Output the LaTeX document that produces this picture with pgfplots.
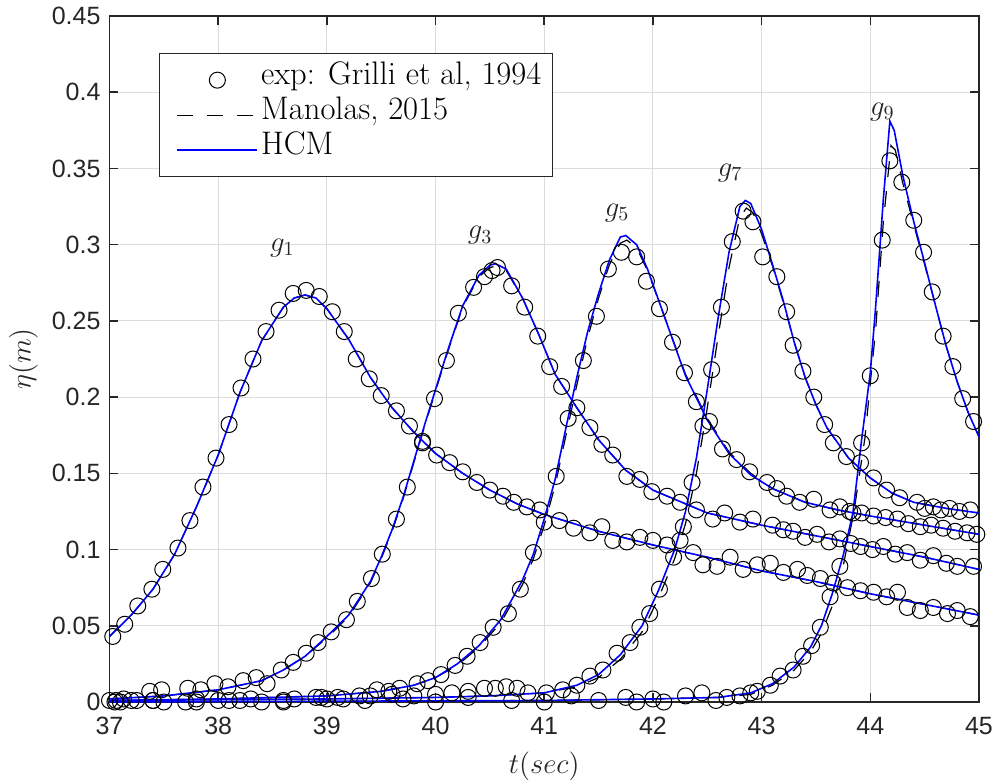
\documentclass[border=0pt]{standalone}
\usepackage{pgfplots}
\pgfplotsset{compat=1.18}
\usepackage{fontspec}
\newfontfamily\arial{Liberation Sans}
\definecolor{hcmblue}{RGB}{0,0,255}
\definecolor{axgray}{RGB}{38,38,38}

\begin{document}
\begin{tikzpicture}
\begin{axis}[
  scale only axis, width=434.75pt, height=343pt,
  xmin=37, xmax=45, ymin=0, ymax=0.45,
  xtick={37,38,39,40,41,42,43,44,45},
  xticklabels={37,38,39,40,41,42,43,44,45},
  ytick={0,0.05,0.1,0.15,0.2,0.25,0.3,0.35,0.4,0.45},
  yticklabels={0,0.05,0.1,0.15,0.2,0.25,0.3,0.35,0.4,0.45},
  grid=major, major grid style={black!14, line width=0.5pt},
  tick align=inside, tick pos=both, major tick length=4.5pt,
  axis line style={axgray, line width=0.8pt},
  tick style={axgray, line width=0.8pt},
  ticklabel style={font=\arial\fontsize{12.5}{14}\selectfont, text=axgray},
  xticklabel style={yshift=-4pt},
  yticklabel style={xshift=-1pt},
  xlabel={$t(sec)$}, ylabel={$\eta(m)$},
  label style={font=\fontsize{14}{16}\selectfont, text=axgray},
  xlabel style={at={(axis description cs:0.5,-0.0933)}, anchor=center},
  ylabel style={at={(axis description cs:-0.0989,0.5)}, anchor=center},
  legend cell align=left,
  legend style={at={(0.0569,0.946)}, anchor=north west, draw=axgray, line width=0.6pt,
    font=\fontsize{16.3}{17.5}\selectfont, inner xsep=4pt, inner ysep=4.5pt,
    nodes={inner xsep=1.5pt, inner ysep=0pt, text height=11pt, text depth=6.5pt}},
  legend image code/.code={\path (-4.5pt,0pt); \draw[mark repeat=2,mark phase=2,#1] plot coordinates {(0pt,0pt) (20pt,0pt) (40pt,0pt)};},
]
% ---------------- experimental data ----------------
\addplot[only marks, mark=o, mark size=4pt, black, line width=0.5pt] coordinates {
(37.03,0.043)(37.14,0.051)(37.26,0.063)(37.39,0.074)(37.49,0.087)(37.63,0.101)(37.74,0.119)(37.86,0.141)
(37.98,0.160)(38.10,0.182)(38.21,0.206)(38.32,0.225)(38.44,0.243)(38.56,0.257)(38.69,0.268)(38.81,0.270)
(38.93,0.266)(39.05,0.256)(39.16,0.243)(39.27,0.225)(39.39,0.212)(39.50,0.201)(39.64,0.191)(39.76,0.181)
(39.88,0.171)(40.01,0.162)(40.13,0.157)(40.25,0.151)(40.38,0.144)(40.50,0.139)(40.62,0.135)(40.72,0.131)
(40.84,0.128)(40.96,0.126)(41.14,0.119)(41.27,0.114)(41.42,0.111)(41.53,0.115)(41.63,0.106)(41.76,0.105)
(41.88,0.108)(42.00,0.106)(42.13,0.103)(42.25,0.106)(42.37,0.098)(42.46,0.090)(42.59,0.089)(42.71,0.095)
(42.83,0.087)(42.96,0.090)(43.08,0.091)(43.20,0.085)(43.33,0.087)(43.42,0.083)(43.54,0.081)(43.66,0.078)
(43.79,0.075)(43.91,0.073)(44.03,0.072)(44.15,0.069)(44.25,0.072)(44.34,0.062)(44.46,0.060)(44.58,0.062)
(44.71,0.058)(44.80,0.060)(44.92,0.056)
};
\addlegendentry{exp: Grilli et al, 1994}
\addplot[only marks, mark=o, mark size=4pt, black, line width=0.5pt, forget plot] coordinates {
(37.00,0.001)(37.06,0.001)(37.13,0.002)(37.25,0.001)(37.37,0.007)(37.48,0.008)(37.72,0.009)(37.84,0.008)
(37.97,0.012)(38.09,0.010)(38.23,0.014)(38.35,0.016)(38.45,0.012)(38.58,0.021)(38.69,0.026)(38.81,0.032)
(38.92,0.039)(39.04,0.046)(39.18,0.054)(39.28,0.066)(39.41,0.081)(39.51,0.097)(39.64,0.120)(39.74,0.141)
(39.88,0.170)(39.99,0.199)(40.10,0.224)(40.21,0.255)(40.35,0.272)(40.45,0.279)(40.52,0.283)(40.57,0.285)
(40.70,0.273)(40.82,0.259)(40.94,0.240)(41.05,0.220)(41.16,0.207)(41.30,0.193)(41.42,0.180)(41.53,0.169)
(41.63,0.162)(41.76,0.148)(41.88,0.146)(41.99,0.138)(42.13,0.135)(42.25,0.131)(42.40,0.126)(42.55,0.120)
(42.66,0.124)(42.80,0.118)(42.92,0.120)(43.10,0.116)(43.20,0.113)(43.29,0.112)(43.40,0.108)(43.51,0.110)
(43.62,0.105)(43.72,0.107)(43.82,0.104)(43.91,0.102)(44.02,0.100)(44.12,0.102)(44.23,0.097)(44.34,0.098)
(44.46,0.093)(44.58,0.096)(44.70,0.091)(44.80,0.089)(44.95,0.089)
};
\addplot[only marks, mark=o, mark size=4pt, black, line width=0.5pt, forget plot] coordinates {
(37.20,0.001)(37.50,0.000)(37.80,0.002)(38.10,0.001)(38.40,0.000)(38.70,0.002)(38.95,0.003)(39.10,0.003)
(39.30,0.004)(39.46,0.008)(39.57,0.007)(39.67,0.009)(39.83,0.012)(39.93,0.014)(40.05,0.018)(40.18,0.024)
(40.29,0.030)(40.41,0.039)(40.53,0.049)(40.67,0.058)(40.78,0.074)(40.90,0.098)(41.00,0.118)(41.11,0.148)
(41.22,0.186)(41.36,0.224)(41.48,0.253)(41.59,0.284)(41.71,0.295)(41.85,0.292)(41.94,0.276)(42.06,0.258)
(42.18,0.236)(42.29,0.216)(42.40,0.197)(42.52,0.184)(42.64,0.166)(42.77,0.159)(42.89,0.151)(43.05,0.144)
(43.14,0.140)(43.23,0.135)(43.35,0.131)(43.48,0.133)(43.63,0.126)(43.72,0.128)(43.81,0.125)(43.92,0.124)
(44.03,0.122)(44.14,0.121)(44.25,0.120)(44.35,0.117)(44.46,0.115)(44.56,0.116)(44.67,0.114)(44.78,0.112)
(44.89,0.111)(44.98,0.110)
};
\addplot[only marks, mark=o, mark size=4pt, black, line width=0.5pt, forget plot] coordinates {
(37.10,0.000)(37.40,0.001)(37.70,0.000)(38.00,0.001)(38.30,0.002)(38.60,0.001)(38.90,0.003)(39.15,0.002)
(39.40,0.004)(39.60,0.005)(39.80,0.004)(40.00,0.005)(40.15,0.006)(40.30,0.007)(40.45,0.009)(40.55,0.009)
(40.65,0.010)(40.75,0.009)(40.85,0.006)(41.02,0.006)(41.17,0.008)(41.30,0.011)(41.42,0.017)(41.54,0.021)
(41.67,0.032)(41.79,0.039)(41.88,0.049)(41.97,0.058)(42.06,0.074)(42.19,0.095)(42.28,0.115)(42.36,0.144)
(42.46,0.181)(42.54,0.218)(42.63,0.259)(42.73,0.302)(42.83,0.322)(42.92,0.315)(43.01,0.292)(43.14,0.279)
(43.23,0.256)(43.29,0.234)(43.38,0.217)(43.48,0.200)(43.58,0.182)(43.66,0.170)(43.78,0.161)(43.91,0.157)
(44.03,0.147)(44.15,0.139)(44.27,0.134)(44.43,0.131)(44.50,0.127)(44.58,0.128)(44.65,0.126)(44.73,0.127)
(44.82,0.125)(44.92,0.126)
};
\addplot[only marks, mark=o, mark size=4pt, black, line width=0.5pt, forget plot] coordinates {
(37.05,0.000)(37.40,0.001)(37.80,0.000)(38.20,0.001)(38.60,0.000)(39.00,0.002)(39.35,0.001)(39.70,0.002)
(40.00,0.000)(40.30,0.003)(40.70,0.001)(41.00,0.000)(41.25,0.004)(41.50,0.001)(41.75,0.003)(41.85,0.000)
(42.00,0.002)(42.10,0.000)(42.30,0.004)(42.45,0.006)(42.58,0.001)(42.68,0.003)(42.80,0.004)(42.90,0.006)
(42.96,0.007)(43.08,0.011)(43.17,0.017)(43.29,0.021)(43.38,0.030)(43.46,0.037)(43.54,0.049)(43.63,0.069)
(43.72,0.089)(43.84,0.124)(43.92,0.170)(44.00,0.214)(44.11,0.303)(44.18,0.355)(44.29,0.341)(44.40,0.316)
(44.49,0.295)(44.57,0.269)(44.67,0.240)(44.76,0.220)(44.85,0.199)(44.95,0.184)
};
% ---------------- Manolas, 2015 (dashed) ----------------
\addplot[black, line width=0.6pt, dash pattern=on 8pt off 7pt] coordinates {
(37.0,0.043)(37.2,0.057)(37.4,0.074)(37.6,0.097)(37.8,0.128)(38.0,0.162)(38.2,0.203)(38.4,0.237)
(38.6,0.259)(38.7,0.265)(38.8,0.267)(38.9,0.265)(39.0,0.258)(39.2,0.238)(39.4,0.213)(39.6,0.193)
(39.8,0.177)(40.0,0.163)(40.25,0.150)(40.5,0.139)(40.75,0.130)(41.0,0.123)(41.5,0.112)(42.0,0.103)
(42.5,0.095)(43.0,0.086)(43.5,0.079)(44.0,0.071)(44.5,0.064)(45.0,0.057)
};
\addlegendentry{Manolas, 2015}
\addplot[black, line width=0.6pt, dash pattern=on 8pt off 7pt, forget plot] coordinates {
(37.0,0.002)(37.5,0.004)(38.0,0.008)(38.4,0.014)(38.6,0.021)(38.8,0.030)(39.0,0.042)(39.2,0.056)
(39.4,0.078)(39.5,0.094)(39.6,0.112)(39.7,0.133)(39.9,0.181)(40.1,0.227)(40.25,0.259)(40.4,0.279)
(40.5,0.285)(40.56,0.286)(40.65,0.283)(40.8,0.265)(40.95,0.241)(41.1,0.215)(41.3,0.193)(41.5,0.172)
(41.75,0.152)(42.0,0.139)(42.5,0.124)(43.0,0.116)(43.5,0.109)(44.0,0.102)(44.5,0.095)(45.0,0.087)
};
\addplot[black, line width=0.6pt, dash pattern=on 8pt off 7pt, forget plot] coordinates {
(37.0,0.001)(38.0,0.002)(39.0,0.004)(39.5,0.007)(39.8,0.011)(40.0,0.016)(40.2,0.024)(40.4,0.036)
(40.6,0.052)(40.8,0.077)(40.9,0.094)(41.0,0.116)(41.1,0.142)(41.2,0.175)(41.3,0.208)(41.4,0.239)
(41.5,0.265)(41.6,0.287)(41.7,0.301)(41.76,0.303)(41.85,0.298)(41.95,0.283)(42.1,0.254)(42.3,0.215)
(42.5,0.186)(42.7,0.164)(42.9,0.150)(43.1,0.140)(43.4,0.131)(43.7,0.126)(44.0,0.122)(44.5,0.116)(45.0,0.110)
};
\addplot[black, line width=0.6pt, dash pattern=on 8pt off 7pt, forget plot] coordinates {
(37.0,0.001)(39.0,0.002)(40.0,0.003)(40.5,0.004)(41.0,0.006)(41.3,0.010)(41.5,0.016)(41.7,0.028)
(41.9,0.046)(42.05,0.068)(42.2,0.094)(42.3,0.117)(42.4,0.150)(42.5,0.193)(42.6,0.240)(42.7,0.285)
(42.8,0.318)(42.86,0.324)(42.92,0.321)(43.0,0.307)(43.1,0.286)(43.2,0.262)(43.3,0.236)(43.4,0.213)
(43.5,0.195)(43.6,0.180)(43.8,0.160)(44.0,0.147)(44.2,0.137)(44.4,0.131)(44.7,0.127)(45.0,0.124)
};
\addplot[black, line width=0.6pt, dash pattern=on 8pt off 7pt, forget plot] coordinates {
(37.0,0.000)(41.0,0.001)(42.0,0.002)(42.6,0.003)(42.9,0.005)(43.1,0.011)(43.3,0.021)(43.45,0.033)
(43.55,0.045)(43.65,0.063)(43.75,0.089)(43.85,0.125)(43.95,0.173)(44.05,0.245)(44.12,0.315)(44.19,0.365)
(44.23,0.362)(44.3,0.340)(44.4,0.313)(44.5,0.287)(44.6,0.260)(44.7,0.233)(44.8,0.210)(44.9,0.190)(45.0,0.174)
};
% ---------------- HCM (blue) ----------------
\addplot[hcmblue, line width=0.8pt] coordinates {
(37.0,0.043)(37.2,0.057)(37.4,0.074)(37.6,0.097)(37.8,0.128)(38.0,0.162)(38.2,0.203)(38.4,0.237)
(38.6,0.259)(38.7,0.265)(38.8,0.267)(38.9,0.265)(39.0,0.258)(39.2,0.238)(39.4,0.213)(39.6,0.193)
(39.8,0.177)(40.0,0.163)(40.25,0.150)(40.5,0.139)(40.75,0.130)(41.0,0.123)(41.5,0.112)(42.0,0.103)
(42.5,0.095)(43.0,0.086)(43.5,0.079)(44.0,0.071)(44.5,0.064)(45.0,0.057)
};
\addlegendentry{HCM}
\addplot[hcmblue, line width=0.8pt, forget plot] coordinates {
(37.0,0.002)(37.5,0.004)(38.0,0.008)(38.4,0.014)(38.6,0.021)(38.8,0.030)(39.0,0.043)(39.2,0.057)
(39.4,0.079)(39.5,0.095)(39.6,0.113)(39.7,0.134)(39.9,0.182)(40.1,0.228)(40.25,0.260)(40.4,0.280)
(40.5,0.2865)(40.55,0.2875)(40.65,0.284)(40.8,0.265)(40.95,0.241)(41.1,0.215)(41.3,0.193)(41.5,0.172)
(41.75,0.152)(42.0,0.139)(42.5,0.124)(43.0,0.116)(43.5,0.109)(44.0,0.102)(44.5,0.095)(45.0,0.087)
};
\addplot[hcmblue, line width=0.8pt, forget plot] coordinates {
(37.0,0.001)(38.0,0.002)(39.0,0.004)(39.5,0.007)(39.8,0.011)(40.0,0.016)(40.2,0.025)(40.4,0.037)
(40.6,0.054)(40.8,0.080)(40.9,0.097)(41.0,0.120)(41.1,0.146)(41.2,0.180)(41.3,0.213)(41.4,0.243)
(41.5,0.268)(41.6,0.290)(41.7,0.305)(41.75,0.306)(41.85,0.300)(41.95,0.284)(42.1,0.254)(42.3,0.214)
(42.5,0.185)(42.7,0.163)(42.9,0.149)(43.1,0.140)(43.4,0.131)(43.7,0.126)(44.0,0.122)(44.5,0.116)(45.0,0.110)
};
\addplot[hcmblue, line width=0.8pt, forget plot] coordinates {
(37.0,0.001)(39.0,0.002)(40.0,0.003)(40.5,0.004)(41.0,0.006)(41.3,0.011)(41.5,0.018)(41.7,0.031)
(41.9,0.050)(42.05,0.073)(42.2,0.100)(42.3,0.125)(42.4,0.160)(42.5,0.205)(42.6,0.252)(42.7,0.295)
(42.8,0.325)(42.85,0.329)(42.9,0.327)(43.0,0.310)(43.1,0.287)(43.2,0.263)(43.3,0.236)(43.4,0.213)
(43.5,0.195)(43.6,0.180)(43.8,0.160)(44.0,0.147)(44.2,0.137)(44.4,0.131)(44.7,0.127)(45.0,0.124)
};
\addplot[hcmblue, line width=0.8pt, forget plot] coordinates {
(37.0,0.000)(41.0,0.001)(42.0,0.002)(42.6,0.003)(42.9,0.006)(43.1,0.012)(43.3,0.023)(43.45,0.036)
(43.55,0.050)(43.65,0.071)(43.75,0.096)(43.84,0.124)(43.92,0.172)(44.0,0.216)(44.05,0.260)(44.12,0.330)
(44.18,0.381)(44.22,0.375)(44.3,0.345)(44.4,0.315)(44.5,0.288)(44.6,0.260)(44.7,0.233)(44.8,0.210)
(44.9,0.190)(45.0,0.174)
};
% ---------------- gauge labels ----------------
\node[font=\fontsize{14}{16}\selectfont, text=axgray] at (axis cs:38.59,0.298) {$g_1$};
\node[font=\fontsize{14}{16}\selectfont, text=axgray] at (axis cs:40.41,0.306) {$g_3$};
\node[font=\fontsize{14}{16}\selectfont, text=axgray] at (axis cs:41.67,0.321) {$g_5$};
\node[font=\fontsize{14}{16}\selectfont, text=axgray] at (axis cs:42.71,0.347) {$g_7$};
\node[font=\fontsize{14}{16}\selectfont, text=axgray] at (axis cs:44.11,0.387) {$g_9$};
\end{axis}
\pgfresetboundingbox
\path[use as bounding box] (-54.75pt,-40.5pt) rectangle (443.25pt,351pt);
\end{tikzpicture}
\end{document}
